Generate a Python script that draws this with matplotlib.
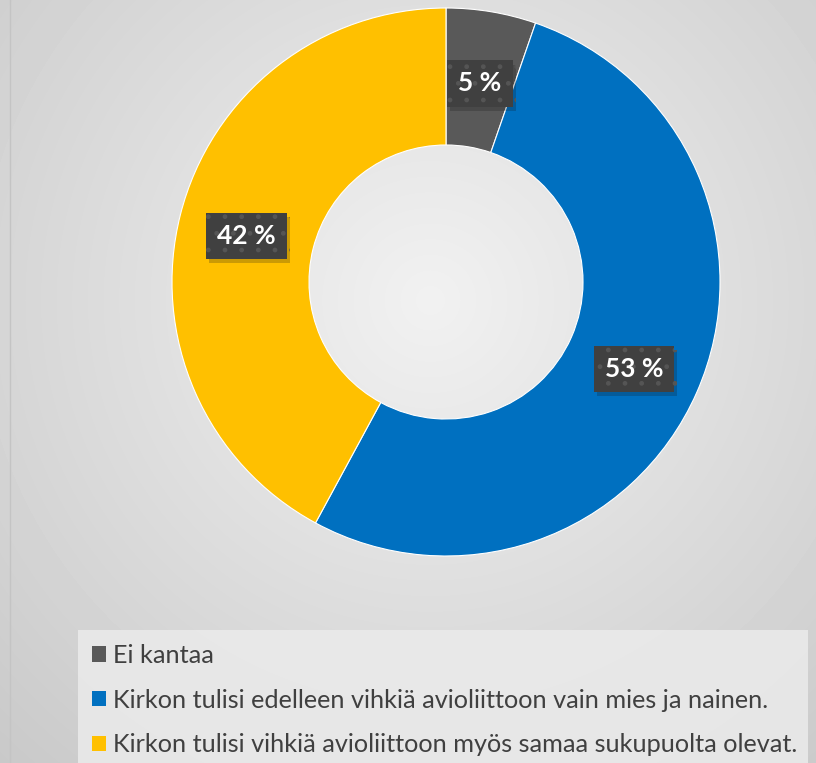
import numpy as np
import matplotlib.pyplot as plt
from matplotlib.patches import Patch, Rectangle
import matplotlib.patheffects as pe

# data
labels = ["Ei kantaa",
          "Kirkon tulisi edelleen vihkiä avioliittoon vain mies ja nainen.",
          "Kirkon tulisi vihkiä avioliittoon myös samaa sukupuolta olevat."]
values = [5.3, 52.6, 42.1]
value_labels = ["5 %", "53 %", "42 %"]
colors = ["#595959", "#0070c0", "#ffc000"]

W, H = 816, 763
fig = plt.figure(figsize=(W / 100, H / 100), dpi=100)

# background with soft radial gradient
bg = fig.add_axes([0, 0, 1, 1])
yy, xx = np.mgrid[0:H, 0:W]
d = np.sqrt(((xx - 430) / 520.0) ** 2 + ((yy - 300) / 520.0) ** 2)
shade = 0.945 - 0.13 * np.clip(d, 0, 1.2)
bg.imshow(shade, cmap="gray", vmin=0, vmax=1, extent=[0, W, H, 0], aspect="auto")
bg.set_xlim(0, W)
bg.set_ylim(H, 0)
bg.axis("off")
bg.plot([10, 10], [0, H], color="#c4c4c4", lw=1)
# legend panel
bg.add_patch(Rectangle((78, 630), 730, 140, facecolor="#ebebeb", edgecolor="none", alpha=0.85))

# donut
cx, cy, r = 446, 282, 274
ax = fig.add_axes([(cx - r) / W, 1 - (cy + r) / H, 2 * r / W, 2 * r / H])
wedges, _ = ax.pie(values, colors=colors, startangle=90, counterclock=False,
                   radius=1, wedgeprops=dict(width=0.5, edgecolor="white", linewidth=0.8))
ax.set_xlim(-1, 1)
ax.set_ylim(-1, 1)
ax.axis("off")

# value labels in the middle of the ring
total = sum(values)
start = 0
for v, lab in zip(values, value_labels):
    mid = (start + v / 2) / total * 2 * np.pi
    start += v
    x = 0.75 * np.sin(mid)
    y = 0.75 * np.cos(mid) - 0.015
    t = ax.text(x, y, lab, ha="center", va="center", fontsize=19,
                fontweight="bold", family="Lato", color="white",
                bbox=dict(boxstyle="square,pad=0.42", facecolor="#404040", edgecolor="#555555",
                          linewidth=0, hatch="."))
    t.get_bbox_patch().set_path_effects([pe.SimplePatchShadow(offset=(2, -3), alpha=0.22), pe.Normal()])

# legend
handles = [Patch(facecolor=c, edgecolor="none") for c in colors]
fig.legend(handles, labels, loc="upper left", bbox_to_anchor=(92 / W, 1 - 644 / H),
           frameon=False, prop=dict(family="Lato", size=18.2), labelcolor="#404040",
           handlelength=0.55, handleheight=0.55, handletextpad=0.3,
           labelspacing=0.86, borderpad=0, borderaxespad=0)

fig.savefig("out.png", dpi=100)
